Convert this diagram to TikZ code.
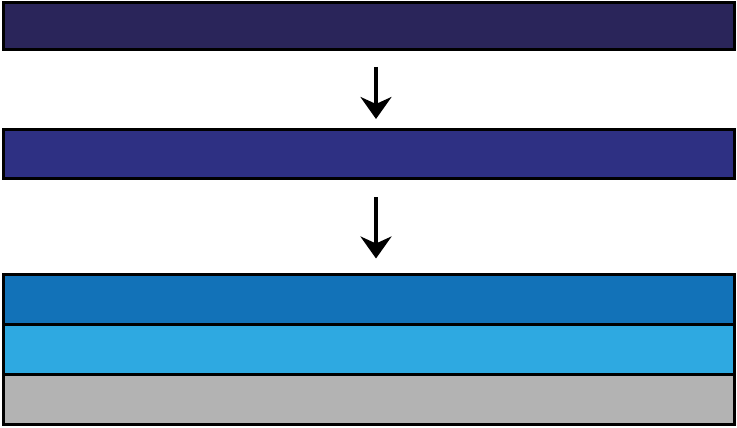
\documentclass[tikz,border=0pt]{standalone}
\usetikzlibrary{arrows.meta}
\definecolor{cA}{HTML}{2A255A}
\definecolor{cB}{HTML}{2E3083}
\definecolor{cC}{HTML}{1272B8}
\definecolor{cD}{HTML}{2EA9E1}
\definecolor{cE}{HTML}{B3B3B3}
\begin{document}
\begin{tikzpicture}[x=1pt,y=-1pt,
  bar/.style={draw=black, line width=3pt, rectangle, inner sep=0pt, outer sep=0pt, minimum width=731pt, minimum height=#1},
  bar/.default=48pt,
  flow/.style={line width=3.5pt, -{Stealth[length=22pt,width=31pt,inset=7pt]}}]
\useasboundingbox (0,0) rectangle (737,428);
\node[bar=47pt, fill=cA] (b1) at (368.5,26.5) {};
\node[bar=49pt, fill=cB] (b2) at (368.5,153.5) {};
\node[bar=50pt, fill=cC] (b3) at (368.5,299.5) {};
\node[bar=50pt, fill=cD] (b4) at (368.5,349.5) {};
\node[bar=50pt, fill=cE] (b5) at (368.5,399.5) {};
\draw[flow, shorten <=17pt, shorten >=10pt] ([xshift=7.5pt]b1.south) -- ([xshift=7.5pt]b2.north);
\draw[flow, shorten <=19pt, shorten >=16pt] ([xshift=7.5pt]b2.south) -- ([xshift=7.5pt]b3.north);
\end{tikzpicture}
\end{document}
